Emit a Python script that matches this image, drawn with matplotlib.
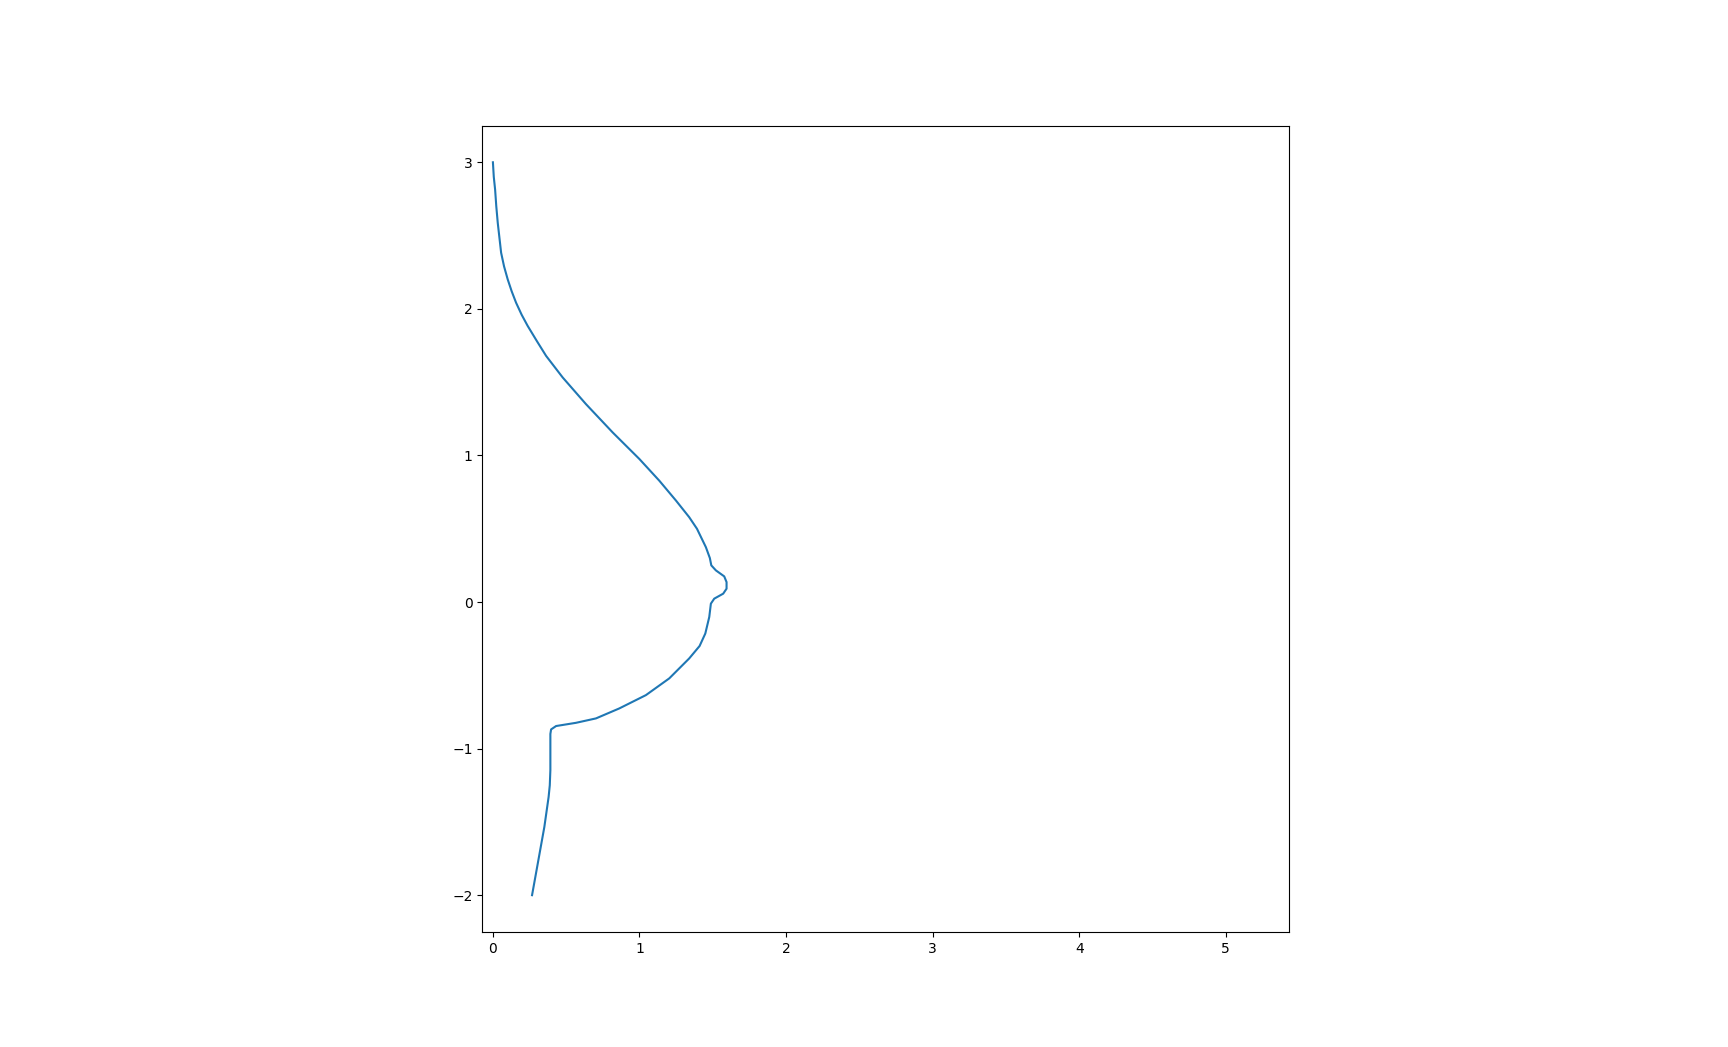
import matplotlib
matplotlib.use("Agg")
import matplotlib.pyplot as plt

x_vals = [0.0, 0.006, 0.015, 0.023, 0.033, 0.056, 0.076, 0.101, 0.128, 0.158, 0.196, 0.237,
          0.300, 0.363, 0.476, 0.635, 0.817, 0.999, 1.135, 1.249, 1.339, 1.392, 1.453, 1.480,
          1.490, 1.521, 1.578, 1.594, 1.594, 1.571, 1.510, 1.487, 1.476, 1.449, 1.410, 1.339,
          1.203, 1.044, 0.862, 0.703, 0.567, 0.431, 0.397, 0.392, 0.392, 0.388, 0.380, 0.351,
          0.306, 0.267]
y_vals = [3.0, 2.9, 2.814, 2.70, 2.587, 2.383, 2.29, 2.201, 2.12, 2.042, 1.96, 1.884,
          1.78, 1.679, 1.532, 1.35, 1.157, 0.976, 0.828, 0.692, 0.579, 0.50, 0.374, 0.30,
          0.25, 0.216, 0.175, 0.136, 0.091, 0.057, 0.023, -0.011, -0.102, -0.215, -0.30, -0.385,
          -0.521, -0.635, -0.726, -0.794, -0.824, -0.846, -0.869, -0.90, -1.146, -1.25, -1.33, -1.534,
          -1.784, -2.0]

fig = plt.figure(figsize=(17.28, 10.47), dpi=100)
ax = fig.add_subplot(111)
ax.plot(x_vals, y_vals, color="#1f77b4", linewidth=1.5)
ax.set_xlim(-0.072, 5.43)
ax.set_ylim(-2.25, 3.25)
ax.set_aspect("equal")
fig.savefig("out.png", dpi=100)
